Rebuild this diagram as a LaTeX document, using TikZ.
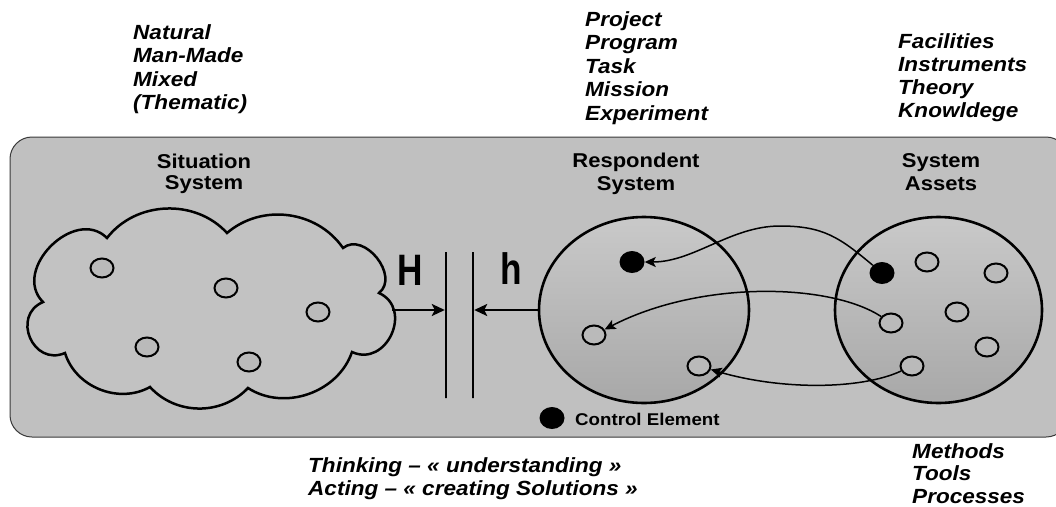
\documentclass[tikz,border=0pt]{standalone}
\usepackage{fontspec}
\setmainfont[FakeStretch=1.1]{Liberation Sans}
\newfontfamily\hfont[FakeStretch=0.8]{Liberation Sans}
\usetikzlibrary{arrows.meta,shapes.geometric}
\definecolor{bg}{HTML}{C0C0C0}
\definecolor{cloudfill}{HTML}{C2C2C2}
\definecolor{smallfill}{HTML}{BABABA}
\definecolor{bigtop}{HTML}{C9C9C9}
\definecolor{bigbot}{HTML}{A8A8A8}
\definecolor{boxline}{HTML}{3A3A3A}
\newcommand\llines[2]{\vtop{\baselineskip=#1\relax\lineskiplimit=-30pt\lineskip=0pt\halign{##\hfil\cr#2\crcr}}}
\newcommand\clines[2]{\vtop{\baselineskip=#1\relax\lineskiplimit=-30pt\lineskip=0pt\halign{\hfil##\hfil\cr#2\crcr}}}
\begin{document}
\begin{tikzpicture}[x=1pt,y=-1pt,
  itxt/.style={font=\fontsize{20.5}{23.5}\selectfont\bfseries\itshape, inner sep=0pt, anchor=base west},
  lbl/.style={font=\fontsize{20}{22}\selectfont\bfseries, inner sep=0pt, anchor=base},
  bigh/.style={font=\fontsize{44}{44}\selectfont\hfont\bfseries, inner sep=0pt, anchor=base west},
  elem/.style={ellipse, draw=black, line width=2pt, fill=smallfill, minimum width=23pt, minimum height=19pt, inner sep=0pt},
  ctrl/.style={ellipse, fill=black, minimum width=25pt, minimum height=22pt, inner sep=0pt},
  bigcirc/.style={ellipse, draw=black, line width=2.6pt, top color=bigtop, bottom color=bigbot, inner sep=0pt},
  plate/.style={draw=black, line width=2.4pt, minimum width=0pt, minimum height=146pt, inner sep=0pt},
  harrow/.style={line width=2.2pt, -{Stealth[length=13pt,width=12pt,inset=3pt]}},
  carrow/.style={line width=1.5pt, -{Stealth[length=11pt,width=10pt,inset=2.5pt]}}
]
\useasboundingbox (0,0) rectangle (1056,506);
\clip (0,0) rectangle (1056,506);
\fill[white] (0,0) rectangle (1056,506);

% background box
\draw[boxline, line width=1pt, fill=bg, rounded corners=22pt] (10,137) rectangle (1068,437);

% cloud
\draw[line width=2.5pt, fill=cloudfill]
  (107,238) to[bend left=50] (227,233) to[bend left=48] (343,248)
  to[bend left=90,looseness=1.2] (379,293) to[bend left=90,looseness=1.5] (352,352)
  to[bend left=52] (248,388) to[bend left=47] (150,387) to[bend left=51] (65,353)
  to[bend left=90,looseness=1.6] (43,302) to[bend left=90,looseness=1.28] (107,238) -- cycle;
\coordinate (cR) at (392,310);

\node[elem] (s1) at (102,268) {};
\node[elem] (s2) at (226,288) {};
\node[elem] (s3) at (318,312) {};
\node[elem] (s4) at (147,347) {};
\node[elem] (s5) at (249,362) {};

% plates
\node[plate] (pl1) at (446,325) {};
\node[plate] (pl2) at (473,325) {};

% big circles
\node[bigcirc, minimum width=210pt, minimum height=186pt] (resp) at (644,310) {};
\node[bigcirc, minimum width=207pt, minimum height=186pt] (assets) at (938.5,310) {};

\draw[harrow] (cR) -- (cR -| pl1.west);
\draw[harrow] (resp.west) -- (resp.west -| pl2.east);

\node[bigh] (H) at (397,285) {H};
\node[bigh] (h) at (500,284) {h};

% respondent elements
\node[ctrl] (rb) at (632,262) {};
\node[elem] (r2) at (594,335) {};
\node[elem] (r3) at (699,366) {};

% asset elements
\node[ctrl] (a1) at (882,273) {};
\node[elem] (a2) at (927,262) {};
\node[elem] (a3) at (996,273) {};
\node[elem] (a4) at (957,312) {};
\node[elem] (a5) at (891,323) {};
\node[elem] (a6) at (987,347) {};
\node[elem] (a7) at (912,366) {};

\coordinate (pk1) at (780,226);
\draw[carrow] (a1) to[out=140,in=0,looseness=1.1] (pk1) to[out=180,in=0,looseness=0.9] (rb);
\draw[carrow] (a5) .. controls (830,283) and (700,280) .. (r2);
\draw[carrow] (a7) .. controls (860,390) and (780,390) .. (r3);

% legend
\node[ctrl] (leg) at (552,418) {};
\node[font=\fontsize{17}{20}\selectfont\bfseries, inner sep=0pt, anchor=base west] (legt) at (575,425) {Control Element};

% labels
\node[lbl] (lsit) at (204,168) {\clines{21pt}{Situation\cr System}};
\node[lbl] (lresp) at (636,167) {\clines{23pt}{Respondent\cr System}};
\node[lbl] (lass) at (941,167) {\clines{23pt}{System\cr Assets}};

\node[itxt] (t1) at (133,39) {\llines{23.5pt}{Natural\cr Man-Made\cr Mixed\cr (Thematic)}};
\node[itxt] (t2) at (585,26) {\llines{23.5pt}{Project\cr Program\cr Task\cr Mission\cr Experiment}};
\node[itxt] (t3) at (898,48) {\llines{23.3pt}{Facilities\cr Instruments\cr Theory\cr Knowldege}};
\node[itxt] (t4) at (912,458) {\llines{22.7pt}{Methods\cr Tools\cr Processes}};
\node[itxt] (t5) at (308,472) {\llines{23pt}{Thinking – « understanding »\cr Acting – « creating Solutions »}};
\end{tikzpicture}
\end{document}
